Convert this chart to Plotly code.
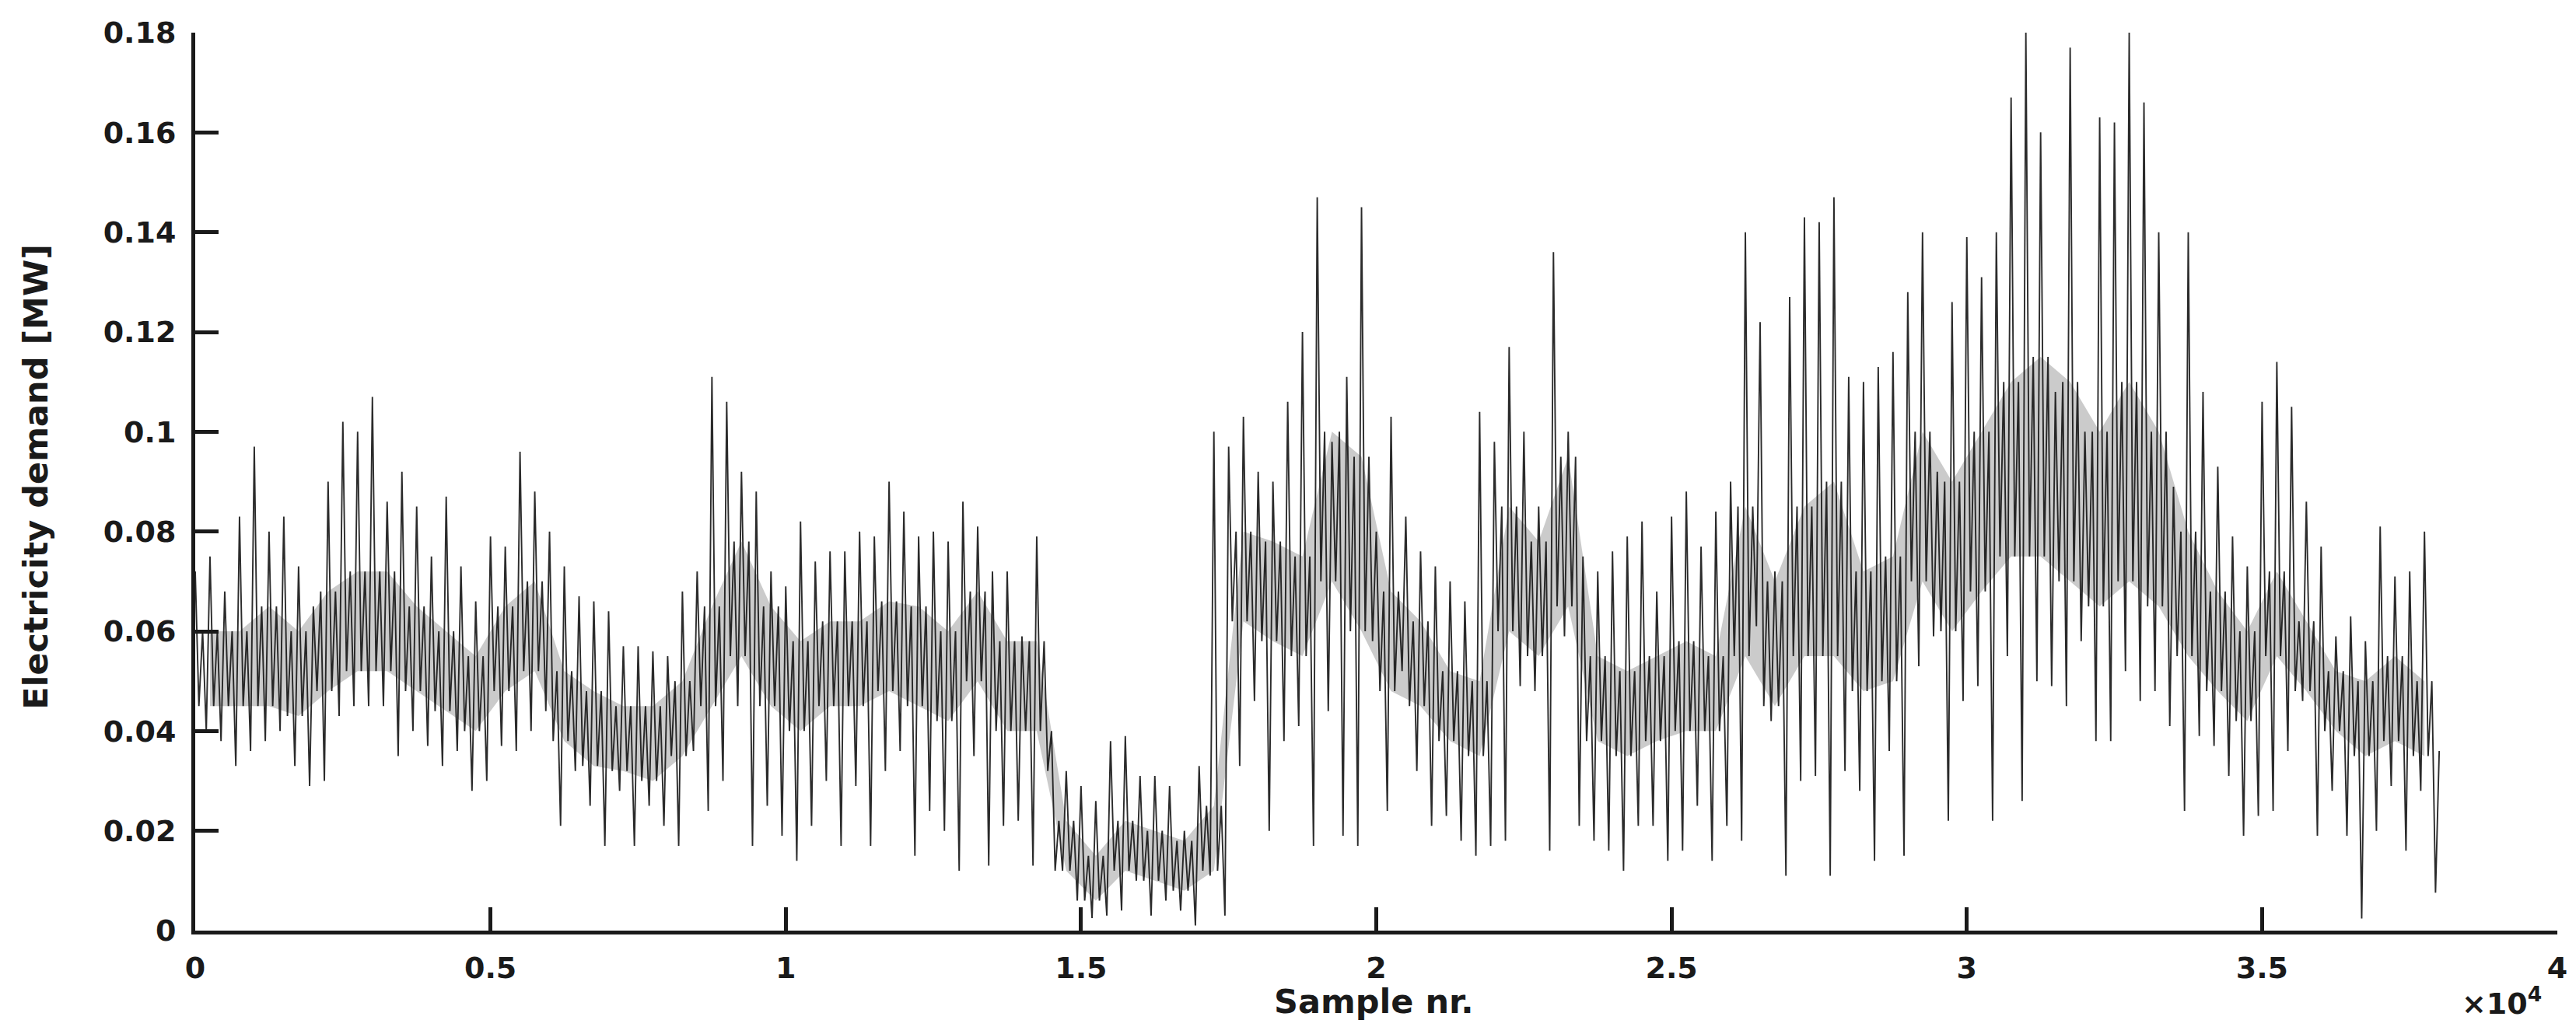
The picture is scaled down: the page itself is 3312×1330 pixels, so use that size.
import numpy as np
import plotly.graph_objects as go

# ---- data (per 250-sample chunk: spike tip and dip) ----
CHUNK = 250
peak = [
    .072, .075, .068, .083, .097, .080, .083, .073, .065, .090,
    .102, .100, .107, .086, .092, .085, .075, .087, .073, .066,
    .079, .077, .096, .088, .080, .073, .067, .066, .064, .057,
    .057, .056, .055, .068, .072, .111, .106, .092, .088, .072,
    .069, .082, .074, .076, .076, .080, .079, .090, .084, .079,
    .080, .078, .086, .081, .072, .072, .059, .079, .040, .032,
    .029, .026, .038, .039, .031, .031, .029, .020, .033, .100,
    .097, .103, .092, .090, .106, .120, .147, .098, .111, .145,
    .080, .103, .083, .076, .073, .070, .066, .104, .098, .117,
    .100, .085, .136, .100, .075, .072, .076, .079, .082, .068,
    .083, .088, .077, .084, .090, .140, .122, .072, .127, .143,
    .142, .147, .111, .110, .113, .116, .128, .140, .092, .126,
    .139, .131, .140, .167, .180, .160, .108, .177, .100, .163,
    .162, .180, .166, .140, .089, .140, .108, .093, .079, .073,
    .106, .114, .105, .086, .077, .059, .063, .058, .081, .071,
    .072, .080,
]
dip = [
    .040, .038, .033, .036, .038, .040, .033, .029, .030, .043,
    .045, .045, .045, .035, .040, .037, .033, .036, .028, .030,
    .037, .036, .040, .044, .021, .032, .025, .017, .028, .017,
    .025, .021, .017, .036, .024, .030, .045, .017, .025, .019,
    .014, .021, .030, .017, .029, .017, .032, .036, .015, .024,
    .020, .012, .035, .013, .021, .022, .013, .032, .012, .006,
    .0025, .003, .004, .010, .003, .006, .004, .001, .011, .003,
    .033, .046, .020, .038, .041, .017, .044, .019, .017, .058,
    .024, .052, .032, .021, .023, .018, .015, .017, .018, .049,
    .048, .016, .059, .021, .018, .016, .012, .021, .021, .014,
    .016, .025, .014, .021, .018, .061, .042, .011, .030, .031,
    .011, .032, .028, .014, .036, .015, .053, .059, .022, .046,
    .049, .022, .055, .026, .050, .049, .045, .058, .038, .038,
    .052, .046, .048, .041, .024, .039, .037, .031, .019, .023,
    .024, .036, .046, .019, .028, .019, .0024, .020, .029, .016,
    .028, .0076,
]
# dense core band per 500-sample block
BLOCK = 500
core_lo = [
    .045, .045, .045, .043, .048, .052, .052, .048, .044, .040,
    .048, .052, .038, .033, .032, .030, .035, .045, .055, .045,
    .040, .045, .045, .048, .045, .042, .050, .040, .040, .012,
    .006, .012, .010, .008, .012, .062, .058, .055, .070, .060,
    .048, .045, .038, .035, .060, .055, .065, .038, .035, .038,
    .040, .040, .055, .045, .055, .055, .048, .050, .070, .060,
    .068, .075, .075, .070, .065, .070, .065, .055, .048, .042,
    .055, .048, .040, .035, .038, .035,
]
core_hi = [
    .060, .060, .065, .060, .068, .072, .072, .065, .060, .055,
    .065, .070, .052, .048, .045, .045, .050, .065, .078, .065,
    .058, .062, .062, .066, .065, .060, .068, .058, .058, .022,
    .015, .022, .020, .018, .025, .080, .078, .075, .100, .095,
    .068, .062, .052, .050, .085, .078, .095, .055, .052, .055,
    .058, .055, .085, .070, .085, .090, .072, .075, .100, .090,
    .100, .110, .115, .110, .100, .110, .100, .080, .068, .060,
    .072, .062, .052, .050, .055, .050,
]
last_value = 0.036

x_tick_vals = [0, 5000, 10000, 15000, 20000, 25000, 30000, 35000, 40000]
x_tick_text = ["0", "0.5", "1", "1.5", "2", "2.5", "3", "3.5", "4"]
y_tick_vals = [0, 0.02, 0.04, 0.06, 0.08, 0.10, 0.12, 0.14, 0.16, 0.18]
y_tick_text = ["0", "0.02", "0.04", "0.06", "0.08", "0.1", "0.12", "0.14", "0.16", "0.18"]

# ---- build the series: within each chunk tip -> band low -> band high -> dip ----
n = len(peak)
xs, ys = [], []
for i in range(n):
    base = i * CHUNK
    b = i // 2
    xs += [base, base + CHUNK // 4, base + CHUNK // 2, base + 3 * CHUNK // 4]
    ys += [peak[i], core_lo[b], core_hi[b], dip[i]]
xs.append(n * CHUNK)
ys.append(last_value)

block_x = [(j + 0.5) * BLOCK for j in range(len(core_lo))]

FONT = "DejaVu Sans"
INK = "#1a1a1a"

fig = go.Figure()
# dense core of the signal (light shading)
fig.add_trace(go.Scatter(x=block_x, y=core_lo, mode="lines",
                         line=dict(width=0, color="rgba(0,0,0,0)"),
                         hoverinfo="skip", showlegend=False))
fig.add_trace(go.Scatter(x=block_x, y=core_hi, mode="lines", fill="tonexty",
                         fillcolor="rgba(70,70,70,0.28)",
                         line=dict(width=0, color="rgba(0,0,0,0)"),
                         hoverinfo="skip", showlegend=False))
# the signal itself
fig.add_trace(go.Scatter(x=xs, y=ys, mode="lines",
                         line=dict(color="rgba(20,20,20,0.9)", width=1.9),
                         hoverinfo="skip", showlegend=False))

axis_common = dict(showline=True, linecolor=INK, linewidth=5, ticks="inside",
                   ticklen=30, tickwidth=5, tickcolor=INK, showgrid=False,
                   zeroline=False, mirror=False,
                   tickfont=dict(family=FONT, size=38, color=INK, weight="bold"))

fig.update_layout(
    width=3312, height=1330, autosize=False,
    margin=dict(l=243, r=32, t=30, b=141),
    paper_bgcolor="white", plot_bgcolor="white",
    xaxis=dict(range=[0, 40000], tickvals=x_tick_vals, ticktext=x_tick_text,
               ticklabelstandoff=10, **axis_common),
    yaxis=dict(range=[0, 0.18], tickvals=y_tick_vals, ticktext=y_tick_text,
               ticklabelstandoff=12, **axis_common),
    annotations=[
        dict(text="Electricity demand [MW]", xref="paper", yref="paper",
             x=-0.0675, y=0.505, xanchor="center", yanchor="middle",
             textangle=-90, showarrow=False,
             font=dict(family=FONT, size=43, color=INK, weight="bold")),
        dict(text="Sample nr.", xref="paper", yref="paper",
             x=0.499, y=-0.0785, xanchor="center", yanchor="middle",
             showarrow=False,
             font=dict(family=FONT, size=43, color=INK, weight="bold")),
        dict(text="×10<sup>4</sup>", xref="paper", yref="paper",
             x=0.994, y=-0.0785, xanchor="right", yanchor="middle",
             showarrow=False,
             font=dict(family=FONT, size=38, color=INK, weight="bold")),
    ],
)

fig.write_html("out.html")
